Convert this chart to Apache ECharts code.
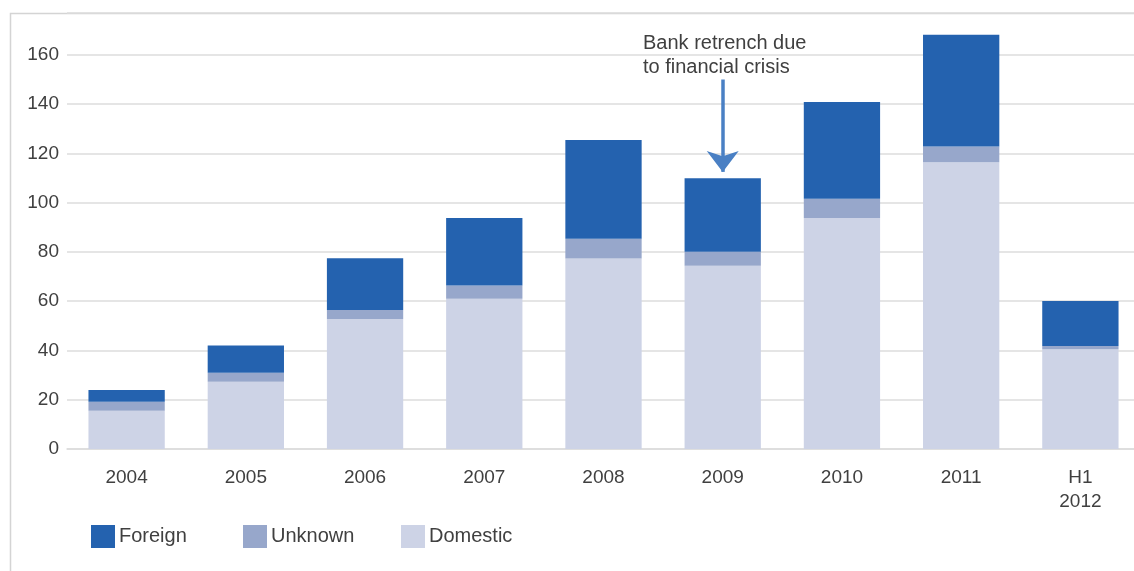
<!DOCTYPE html>
<html>
<head>
<meta charset="utf-8">
<script src="https://cdn.jsdelivr.net/npm/echarts@6/dist/echarts.min.js"></script>
<style>
html,body{margin:0;padding:0;background:#fff;}
#graph{width:1134px;height:571px;}
</style>
</head>
<body>
<div id="graph"></div>
<script>
var categories = ['2004', '2005', '2006', '2007', '2008', '2009', '2010', '2011', 'H1\n2012'];
var domestic = [15.5, 27.3, 52.8, 61, 77.3, 74.4, 93.8, 116.4, 40.5];
var unknown = [3.7, 3.7, 3.6, 5.4, 8.1, 5.7, 7.8, 6.4, 1.3];
var foreign = [4.8, 11, 21, 27.4, 40, 29.8, 39.3, 45.4, 18.3];
var yTicks = [0, 20, 40, 60, 80, 100, 120, 140, 160];
var legendNames = ['Foreign', 'Unknown', 'Domestic'];
var arrowFrom = 150;
var arrowTo = 112.5;

var textColor = '#404040';
var fontFamily = "'Liberation Sans', Arial, sans-serif";

var dom = document.getElementById('graph');
var myChart = echarts.init(dom);

// one legend per item, the spacing in the original is not even
var legendLeft = [91, 243, 401];
var legends = [];
for (var i = 0; i < legendNames.length; i++) {
    legends.push({
        data: [legendNames[i]],
        left: legendLeft[i],
        top: 525,
        padding: 0,
        itemWidth: 24,
        itemHeight: 23,
        icon: 'rect',
        textStyle: { fontSize: 20, color: textColor, fontFamily: fontFamily, padding: [0, 0, 0, -1] }
    });
}

var option = {
    animation: false,
    textStyle: { fontFamily: fontFamily },
    grid: { left: 67, width: 1073, top: 13, bottom: 122, outerBoundsMode: 'none', containLabel: false },
    legend: legends,
    xAxis: {
        type: 'category',
        data: categories,
        axisLine: { lineStyle: { color: '#dcdcdc', width: 1.5 } },
        axisTick: { show: false },
        axisLabel: { color: textColor, fontSize: 19, margin: 17, lineHeight: 24, fontFamily: fontFamily }
    },
    yAxis: {
        type: 'value',
        min: 0,
        max: 177,
        interval: 20,
        axisLine: { show: false },
        axisTick: { show: false },
        splitLine: { lineStyle: { color: '#dcdcdc', width: 1.5 } },
        axisLabel: {
            color: textColor,
            fontSize: 19,
            margin: 8,
            fontFamily: fontFamily,
            showMaxLabel: false,
            formatter: function (v) { return yTicks.indexOf(v) >= 0 ? String(v) : ''; }
        }
    },
    series: [
        {
            name: 'Domestic',
            type: 'bar',
            stack: 'total',
            barWidth: '64%',
            itemStyle: { color: '#cdd3e6' },
            data: domestic
        },
        {
            name: 'Unknown',
            type: 'bar',
            stack: 'total',
            itemStyle: { color: '#97a7cb' },
            data: unknown
        },
        {
            name: 'Foreign',
            type: 'bar',
            stack: 'total',
            itemStyle: { color: '#2462af' },
            data: foreign,
            markLine: {
                silent: true,
                symbol: ['none', 'arrow'],
                symbolSize: [24, 21],
                label: { show: false },
                lineStyle: { color: '#4a80c4', width: 3.5, type: 'solid' },
                data: [[{ coord: ['2009', arrowFrom] }, { coord: ['2009', arrowTo] }]]
            }
        }
    ],
    graphic: [
        {
            type: 'rect',
            shape: { x: 10.5, y: 13.5, width: 1300, height: 700 },
            style: { fill: 'none', stroke: '#d4d4d4', lineWidth: 1.5 },
            silent: true
        },
        {
            type: 'text',
            left: 643,
            top: 31,
            style: {
                text: 'Bank retrench due\nto financial crisis',
                fill: textColor,
                font: '20px ' + fontFamily,
                lineHeight: 24
            }
        }
    ]
};

if (option && typeof option === "object") {
    myChart.setOption(option, true);
}
</script>
</body>
</html>
